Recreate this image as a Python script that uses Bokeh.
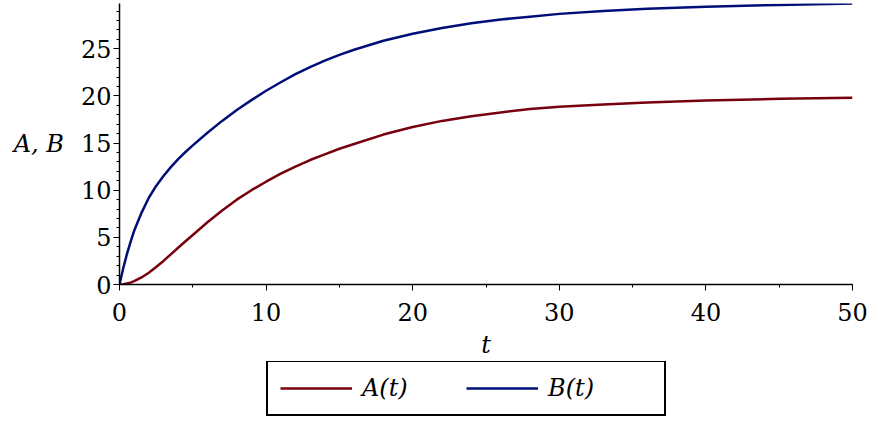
from bokeh.plotting import figure
from bokeh.models import Range1d, SingleIntervalTicker, Legend, LegendItem
from bokeh.layouts import column
from bokeh.core.properties import value
from bokeh.embed import file_html
from bokeh.resources import INLINE

t = [0, 0.25, 0.5, 0.75, 1, 1.5, 2, 2.5, 3, 3.5, 4, 4.5, 5, 6, 7, 8, 9, 10, 11, 12, 13, 14, 15, 16,
     18, 20, 22, 24, 26, 28, 30, 33, 36, 40, 45, 50]
A = [0, 0.02, 0.1, 0.2, 0.35, 0.75, 1.25, 1.85, 2.5, 3.2, 3.9, 4.58, 5.25, 6.6, 7.85, 9.0, 10.0,
     10.9, 11.75, 12.5, 13.2, 13.8, 14.4, 14.9, 15.9, 16.7, 17.35, 17.85, 18.25, 18.6, 18.85,
     19.1, 19.3, 19.5, 19.7, 19.8]
B = [0, 1.7, 3.2, 4.5, 5.7, 7.6, 9.2, 10.45, 11.5, 12.45, 13.3, 14.05, 14.75, 16.1, 17.35, 18.5,
     19.55, 20.55, 21.45, 22.3, 23.05, 23.75, 24.35, 24.9, 25.85, 26.6, 27.2, 27.7, 28.1, 28.4,
     28.7, 29.0, 29.25, 29.45, 29.65, 29.8]
labels = ["A(t)", "B(t)"]
colors = ["#78000E", "#000E78"]

FONT = "DejaVu Serif"

p = figure(frame_width=733, frame_height=281, output_backend="svg", toolbar_location=None,
           x_range=Range1d(0, 50), y_range=Range1d(0, 29.8),
           min_border_left=119, min_border_right=18, min_border_top=3, min_border_bottom=0)
p.outline_line_color = None
p.grid.visible = False
p.background_fill_color = "white"

la = p.line(t, A, line_color=colors[0], line_width=2.5)
lb = p.line(t, B, line_color=colors[1], line_width=2.5)

p.xaxis.ticker = SingleIntervalTicker(interval=10, num_minor_ticks=2)
p.yaxis.ticker = SingleIntervalTicker(interval=5, num_minor_ticks=5)
for ax in (p.xaxis, p.yaxis):
    ax.axis_line_color = "black"
    ax.axis_line_width = 1.5
    ax.major_tick_line_color = "black"
    ax.minor_tick_line_color = "black"
    ax.major_tick_in = 0
    ax.major_tick_out = 6
    ax.minor_tick_in = 0
    ax.minor_tick_out = 3
    ax.major_label_text_font = FONT
    ax.major_label_text_font_size = "24px"
    ax.major_label_text_color = "black"
    ax.axis_label_text_font = FONT
    ax.axis_label_text_font_style = "italic"
    ax.axis_label_text_font_size = "24px"
    ax.axis_label_text_color = "black"

p.xaxis.axis_label = "t"
p.xaxis.major_label_standoff = 12
p.xaxis.axis_label_standoff = 7
p.yaxis.axis_label = "A, B"
p.yaxis.axis_label_orientation = "horizontal"
p.yaxis.major_label_standoff = 2
p.yaxis.axis_label_standoff = 14

# legend strip below the plot (swatch renderers hold no visible data)
nan = float("nan")
p2 = figure(width=870, height=58, output_backend="svg", toolbar_location=None,
            x_range=Range1d(0, 1), y_range=Range1d(0, 1),
            x_axis_type=None, y_axis_type=None, min_border=0)
p2.outline_line_color = None
p2.grid.visible = False
ka = p2.line(x=[nan, nan], y=[nan, nan], line_color=colors[0], line_width=2.5)
kb = p2.line(x=[nan, nan], y=[nan, nan], line_color=colors[1], line_width=2.5)

legend = Legend(items=[LegendItem(label=value(labels[0]), renderers=[ka]),
                       LegendItem(label=value(labels[1]), renderers=[kb])],
                orientation="horizontal", location=(147, 3),
                border_line_color="black", border_line_width=2, border_line_alpha=1.0,
                label_text_font=FONT, label_text_font_style="italic",
                label_text_font_size="24px", label_text_color="black",
                glyph_width=72, glyph_height=20, label_width=104, label_standoff=10,
                spacing=0, padding=12, margin=0)
p2.add_layout(legend, "center")

layout = column(p, p2, spacing=0)
open("out.html", "w").write(file_html(layout, INLINE))
